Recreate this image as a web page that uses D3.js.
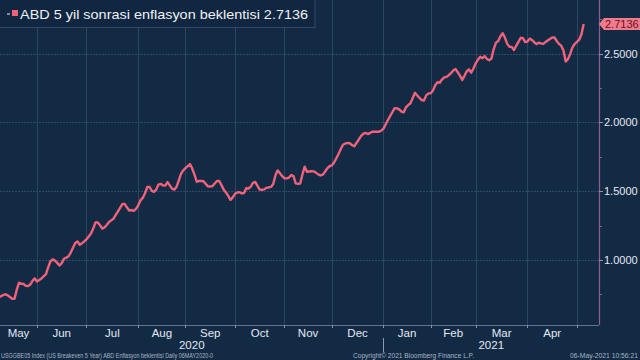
<!DOCTYPE html>
<html lang="tr">
<head>
<meta charset="utf-8">
<title>ABD 5 yil sonrasi enflasyon beklentisi</title>
<script src="https://cdn.jsdelivr.net/npm/d3@7/dist/d3.min.js"></script>
<style>
  body { margin: 0; background: #132a45; }
  svg { display: block; font-family: "Liberation Sans", Arial, sans-serif; }
</style>
</head>
<body>
<script>
// daily (weekday) closes, 06 May 2020 -> 06 May 2021
var values = [
  0.724,0.729,0.737,0.746,0.751,0.743,0.731,0.718,0.718,0.784,
  0.834,0.827,0.826,0.812,0.811,0.821,0.849,0.866,0.844,0.855,
  0.866,0.882,0.898,0.948,0.991,1.004,0.996,0.979,0.960,0.977,
  1.009,1.017,1.027,1.054,1.089,1.123,1.134,1.111,1.122,1.135,
  1.150,1.171,1.192,1.229,1.273,1.273,1.253,1.228,1.237,1.254,
  1.276,1.288,1.300,1.328,1.354,1.381,1.407,1.407,1.381,1.359,
  1.363,1.357,1.372,1.397,1.433,1.451,1.485,1.530,1.531,1.503,
  1.495,1.512,1.548,1.553,1.542,1.540,1.566,1.542,1.518,1.511,
  1.531,1.577,1.626,1.651,1.667,1.682,1.697,1.664,1.620,1.569,
  1.574,1.575,1.572,1.553,1.535,1.534,1.537,1.556,1.574,1.574,
  1.544,1.511,1.491,1.465,1.437,1.455,1.481,1.491,1.492,1.484,
  1.487,1.521,1.519,1.532,1.561,1.567,1.538,1.512,1.510,1.513,
  1.524,1.528,1.531,1.552,1.616,1.651,1.630,1.609,1.593,1.593,
  1.599,1.617,1.610,1.557,1.553,1.556,1.623,1.678,1.641,1.643,
  1.645,1.644,1.633,1.622,1.614,1.620,1.641,1.666,1.681,1.687,
  1.707,1.737,1.770,1.805,1.837,1.846,1.851,1.848,1.835,1.826,
  1.850,1.875,1.900,1.916,1.923,1.915,1.922,1.932,1.932,1.932,
  1.932,1.939,1.954,1.986,2.017,2.047,2.075,2.103,2.101,2.094,
  2.078,2.073,2.109,2.126,2.139,2.177,2.215,2.195,2.177,2.162,
  2.158,2.196,2.210,2.211,2.232,2.269,2.291,2.288,2.311,2.326,
  2.330,2.342,2.357,2.377,2.387,2.364,2.339,2.308,2.338,2.370,
  2.385,2.361,2.391,2.429,2.455,2.476,2.466,2.481,2.460,2.451,
  2.463,2.532,2.579,2.590,2.625,2.647,2.614,2.570,2.549,2.548,
  2.525,2.556,2.585,2.614,2.611,2.583,2.587,2.608,2.598,2.582,
  2.569,2.578,2.574,2.570,2.583,2.595,2.606,2.616,2.616,2.591,
  2.570,2.557,2.521,2.442,2.459,2.497,2.545,2.569,2.585,2.600,
  2.640,2.7136
];
var startDate = "2020-05-06";
var monthNames = ["Jan","Feb","Mar","Apr","May","Jun","Jul","Aug","Sep","Oct","Nov","Dec"];
var majorTicks = [1.0, 1.5, 2.0, 2.5];
var minorTicks = [0.75, 1.25, 1.75, 2.25, 2.75];
var titleText = "ABD 5 yil sonrasi enflasyon beklentisi 2.7136";
var lastLabel = "2.7136";
var footLeft = "USGGBE05 Index (US Breakeven 5 Year) ABD Enflasyon beklentisi  Daily 06MAY2020-0";
var footMid = "Copyright\u00A9 2021 Bloomberg Finance L.P.";
var footRight = "06-May-2021 10:56:21";

// weekday calendar for the series
var dates = [];
var d = new Date(startDate + "T12:00:00");
while (dates.length < values.length) {
  if (d.getDay() != 0 && d.getDay() != 6) dates.push(new Date(d));
  d.setDate(d.getDate() + 1);
}

var W = 640, H = 360;
var plotR = 599, plotB = 325;

var svg = d3.select("body").append("svg").attr("width", W).attr("height", H);
svg.append("rect").attr("width", W).attr("height", H).attr("fill", "#132a45");

var x = d3.scaleLinear().domain([1.556, 267.8]).range([0, plotR]);
var y = d3.scaleLinear().domain([1.0, 2.5]).range([260, 53.5]);

// month boundaries = first weekday of each month
var bounds = [];
for (var i = 1; i < dates.length; i++) {
  if (dates[i].getMonth() != dates[i-1].getMonth()) bounds.push(i);
}

var grid = svg.append("g");
grid.selectAll("line.v").data(bounds).enter().append("line")
  .attr("x1", function(b) { return Math.round(x(b)) + 0.5; })
  .attr("x2", function(b) { return Math.round(x(b)) + 0.5; })
  .attr("y1", 0).attr("y2", plotB)
  .attr("stroke", "#2c4561").attr("stroke-width", 1);
grid.selectAll("line.h").data(majorTicks).enter().append("line")
  .attr("x1", 0).attr("x2", plotR)
  .attr("y1", function(v) { return Math.round(y(v)) + 0.5; })
  .attr("y2", function(v) { return Math.round(y(v)) + 0.5; })
  .attr("stroke", "#2f4966").attr("stroke-width", 1).attr("stroke-dasharray", "2,1");

// the series
svg.append("clipPath").attr("id", "clip").append("rect")
  .attr("x", 0).attr("y", 0).attr("width", plotR).attr("height", plotB);
var line = d3.line().x(function(v, i) { return x(i); }).y(function(v) { return y(v); });
svg.append("path").datum(values)
  .attr("clip-path", "url(#clip)")
  .attr("d", line)
  .attr("fill", "none").attr("stroke", "#f2637b").attr("stroke-width", 2.4)
  .attr("stroke-linejoin", "round");

// x axis
svg.append("line").attr("x1", 0).attr("x2", plotR).attr("y1", plotB + 0.5).attr("y2", plotB + 0.5)
  .attr("stroke", "#5f7690");
svg.selectAll("line.xt").data(bounds).enter().append("line")
  .attr("x1", function(b) { return Math.round(x(b)) + 0.5; })
  .attr("x2", function(b) { return Math.round(x(b)) + 0.5; })
  .attr("y1", plotB).attr("y2", plotB + 3)
  .attr("stroke", "#7d93ab");

var edges = [0].concat(bounds.map(function(b) { return x(b); }));
var mLabels = [];
for (var j = 0; j < edges.length - 1; j++) {
  var idx = j == 0 ? 0 : bounds[j-1];
  mLabels.push({ name: monthNames[dates[idx].getMonth()], cx: (edges[j] + edges[j+1]) / 2 });
}
svg.selectAll("text.m").data(mLabels).enter().append("text")
  .attr("x", function(m) { return m.cx; }).attr("y", 337)
  .attr("text-anchor", "middle").attr("fill", "#e3e9f1").attr("font-size", 11.5)
  .text(function(m) { return m.name; });

// years
var yearEdge = bounds.filter(function(b) { return dates[b].getMonth() == 0; })[0];
var yx = Math.round(x(yearEdge)) + 0.5;
var years = [
  { name: String(dates[0].getFullYear()), cx: yx / 2 },
  { name: String(dates[yearEdge].getFullYear()), cx: (yx + plotR) / 2 }
];
svg.selectAll("text.yr").data(years).enter().append("text")
  .attr("x", function(t) { return t.cx; }).attr("y", 349)
  .attr("text-anchor", "middle").attr("fill", "#e3e9f1").attr("font-size", 11.5)
  .text(function(t) { return t.name; });
svg.append("line").attr("x1", yx).attr("x2", yx).attr("y1", 338).attr("y2", 352)
  .attr("stroke", "#8a9bb0");

// right axis
svg.append("line").attr("x1", plotR + 0.5).attr("x2", plotR + 0.5).attr("y1", 0).attr("y2", plotB)
  .attr("stroke", "#8d5f8c").attr("stroke-width", 1.2);
svg.selectAll("line.mj").data(majorTicks).enter().append("line")
  .attr("x1", plotR).attr("x2", plotR + 4)
  .attr("y1", function(v) { return Math.round(y(v)) + 0.5; })
  .attr("y2", function(v) { return Math.round(y(v)) + 0.5; })
  .attr("stroke", "#a98aa9");
svg.selectAll("line.mn").data(minorTicks).enter().append("line")
  .attr("x1", plotR).attr("x2", plotR + 3)
  .attr("y1", function(v) { return Math.round(y(v)) + 0.5; })
  .attr("y2", function(v) { return Math.round(y(v)) + 0.5; })
  .attr("stroke", "#8d5f8c");
svg.selectAll("text.yt").data(majorTicks).enter().append("text")
  .attr("x", 604).attr("y", function(v) { return y(v) + 4; })
  .attr("fill", "#e3e9f1").attr("font-size", 11)
  .text(function(v) { return v.toFixed(4); });

// last value tag
var ly = y(values[values.length - 1]);
svg.append("path")
  .attr("d", "M599," + ly + "L604," + (ly - 6) + "L640," + (ly - 6) + "L640," + (ly + 6) + "L604," + (ly + 6) + "Z")
  .attr("fill", "#f07b8d");
svg.append("text").attr("x", 605).attr("y", ly + 4)
  .attr("fill", "#6b0f22").attr("font-size", 11).text(lastLabel);

// legend / title box
svg.append("rect").attr("x", -1).attr("y", -1).attr("width", 316).attr("height", 28.5)
  .attr("fill", "#112640").attr("stroke", "#304a66");
svg.append("rect").attr("x", 7).attr("y", 13).attr("width", 3).attr("height", 2).attr("fill", "#7f8fa3");
svg.append("rect").attr("x", 12).attr("y", 10).attr("width", 6).attr("height", 6).attr("fill", "#f2637b");
svg.append("text").attr("x", 20).attr("y", 19).attr("fill", "#eef2f7").attr("font-size", 13.5)
  .attr("textLength", 288).attr("lengthAdjust", "spacingAndGlyphs").text(titleText);

// footer
svg.append("text").attr("x", 1).attr("y", 358).attr("fill", "#a9b4c2").attr("font-size", 7)
  .attr("textLength", 212).attr("lengthAdjust", "spacingAndGlyphs").text(footLeft);
svg.append("text").attr("x", 353).attr("y", 358).attr("fill", "#a9b4c2").attr("font-size", 7)
  .attr("textLength", 121).attr("lengthAdjust", "spacingAndGlyphs").text(footMid);
svg.append("text").attr("x", 638).attr("y", 358).attr("text-anchor", "end").attr("fill", "#a9b4c2")
  .attr("font-size", 7).attr("textLength", 68).attr("lengthAdjust", "spacingAndGlyphs").text(footRight);
</script>
</body>
</html>
